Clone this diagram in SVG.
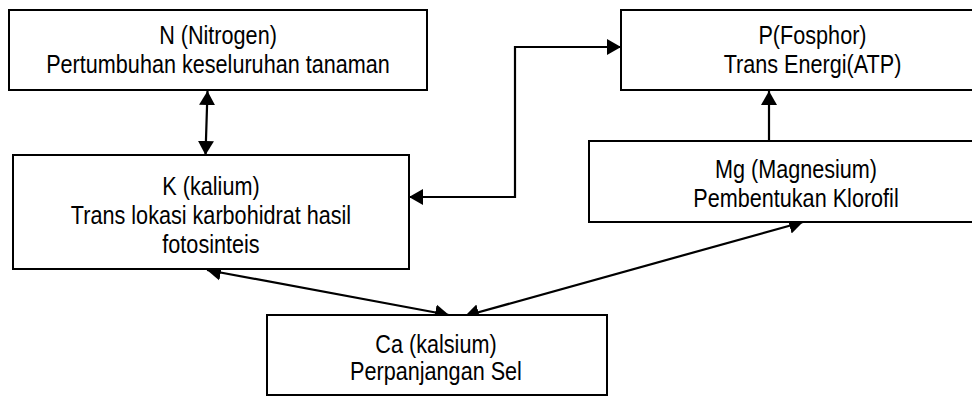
<svg xmlns="http://www.w3.org/2000/svg" width="972" height="396" viewBox="0 0 972 396">
<style>
.box{fill:#fff;stroke:#000;stroke-width:2}
.lbl{font-family:"Liberation Sans",Arial,sans-serif;font-size:25px;fill:#000;text-anchor:middle}
.con{fill:none;stroke:#000;stroke-width:2.2}
</style>
<defs>
<marker id="ah" markerUnits="userSpaceOnUse" markerWidth="15" markerHeight="17" refX="14" refY="8" orient="auto-start-reverse" viewBox="0 0 15 16">
<path d="M0,0 L14,8 L0,16 Z" fill="#000"/>
</marker>
</defs>
<rect width="972" height="396" fill="#fff"/>
<g id="connectors">
<line class="con" x1="207.5" y1="91" x2="205.5" y2="155" marker-start="url(#ah)" marker-end="url(#ah)"/>
<polyline class="con" points="409,197 515,197 515,47 621,47" marker-start="url(#ah)" marker-end="url(#ah)"/>
<line class="con" x1="769" y1="141" x2="769" y2="91" marker-end="url(#ah)"/>
<line class="con" x1="207" y1="270" x2="449" y2="315" marker-start="url(#ah)" marker-end="url(#ah)"/>
<line class="con" x1="803" y1="222" x2="465" y2="316" marker-start="url(#ah)" marker-end="url(#ah)"/>
</g>
<g id="node-n">
<rect class="box" x="9" y="10" width="418" height="80"/>
<g transform="translate(218 0) scale(0.865 1)">
<text class="lbl" x="0" y="44">N (Nitrogen)</text>
<text class="lbl" x="0" y="73">Pertumbuhan keseluruhan tanaman</text>
</g>
</g>
<g id="node-p">
<rect class="box" x="621" y="10" width="383" height="80"/>
<g transform="translate(812.5 0) scale(0.865 1)">
<text class="lbl" x="0" y="44">P(Fosphor)</text>
<text class="lbl" x="0" y="73">Trans Energi(ATP)</text>
</g>
</g>
<g id="node-k">
<rect class="box" x="13" y="155" width="396" height="114"/>
<g transform="translate(211 0) scale(0.865 1)">
<text class="lbl" x="0" y="195">K (kalium)</text>
<text class="lbl" x="0" y="224">Trans lokasi karbohidrat hasil</text>
<text class="lbl" x="0" y="253">fotosinteis</text>
</g>
</g>
<g id="node-mg">
<rect class="box" x="589" y="141" width="413" height="81"/>
<g transform="translate(796 0) scale(0.865 1)">
<text class="lbl" x="0" y="178">Mg (Magnesium)</text>
<text class="lbl" x="0" y="207">Pembentukan Klorofil</text>
</g>
</g>
<g id="node-ca">
<rect class="box" x="267" y="315" width="340" height="80"/>
<g transform="translate(436 0) scale(0.865 1)">
<text class="lbl" x="0" y="353">Ca (kalsium)</text>
<text class="lbl" x="0" y="380">Perpanjangan Sel</text>
</g>
</g>
</svg>
